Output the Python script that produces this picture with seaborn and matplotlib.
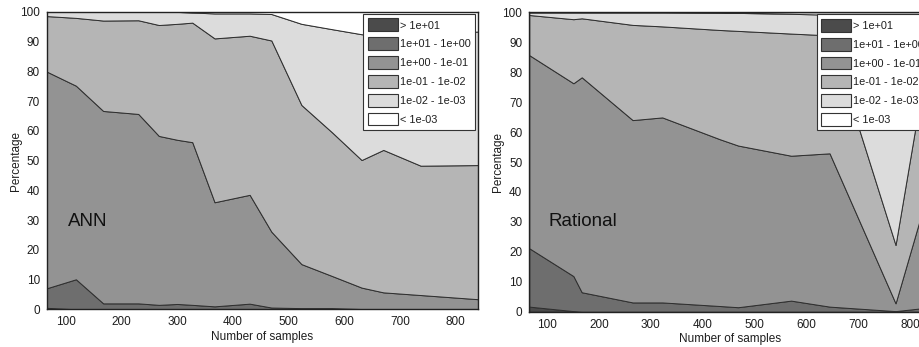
import numpy as np
import matplotlib
matplotlib.use("Agg")
import matplotlib.pyplot as plt
import seaborn as sns
from matplotlib.patches import Patch

# ---------------- data (cumulative upper boundary of each error band, %) ----------------
band_labels = ["> 1e+01", "1e+01 - 1e+00", "1e+00 - 1e-01",
               "1e-01 - 1e-02", "1e-02 - 1e-03", "< 1e-03"]

ann_x = [66, 118, 167, 230, 267, 300, 327, 367, 430, 469, 523, 578, 631, 670, 737, 840]
ann_top1 = [0.5, 0, 0, 0, 0, 0, 0, 0, 0, 0, 0, 0, 0, 0, 0, 0]
ann_top2 = [7.1, 10.1, 2.0, 2.0, 1.5, 1.8, 1.5, 1.0, 1.9, 0.6, 0.4, 0.4, 0.1, 0, 0, 0]
ann_top3 = [79.9, 75.2, 66.7, 65.7, 58.3, 57.0, 56.2, 36.0, 38.5, 26.1, 15.2, 11.2, 7.3, 5.7, 4.8, 3.4]
ann_top4 = [98.6, 98.0, 97.1, 97.2, 95.6, 96.0, 96.4, 91.1, 92.0, 90.4, 68.7, 59.5, 50.2, 53.6, 48.3, 48.5]
ann_top5 = [100, 100, 100, 100, 100, 100, 99.8, 99.5, 99.5, 99.3, 96.0, 94.2, 92.5, 92.2, 92.5, 93.4]

rat_x = [66, 151, 167, 265, 322, 433, 468, 570, 644, 771, 840]
rat_top1 = [1.7, 0.2, 0, 0, 0, 0, 0, 0, 0, 0, 0]
rat_top2 = [21.2, 11.9, 6.5, 3.1, 3.1, 1.9, 1.5, 3.7, 1.7, 0.2, 1.5]
rat_top3 = [85.7, 76.3, 78.3, 64.0, 64.9, 57.6, 55.5, 52.1, 52.9, 2.8, 44.0]
rat_top4 = [99.1, 97.7, 98.0, 95.8, 95.3, 94.1, 93.8, 92.9, 92.3, 22.3, 93.0]
rat_top5 = [100, 100, 100, 100, 100, 99.9, 99.8, 99.5, 99.2, 99.0, 99.0]

x_ticks = [100, 200, 300, 400, 500, 600, 700, 800]
y_ticks = [0, 10, 20, 30, 40, 50, 60, 70, 80, 90, 100]

# ---------------- style ----------------
band_colors = ["#4b4b4b", "#6e6e6e", "#939393", "#b5b5b5", "#dcdcdc", "#ffffff"]
edge_color = "#2e2e2e"
text_color = "#1e1e1e"

sns.set_style("white")
plt.rcParams["font.family"] = ["Liberation Sans", "DejaVu Sans"]

fig = plt.figure(figsize=(9.19, 3.47), dpi=100)
ax_left = fig.add_axes([0.0511, 0.1086, 0.469, 0.857])
ax_right = fig.add_axes([0.5759, 0.1017, 0.4376, 0.8628])


def draw(ax, x, tops, name, label_xy):
    tops = [np.asarray(t, dtype=float) for t in tops] + [np.full(len(x), 100.0)]
    shares = np.diff(np.vstack([np.zeros(len(x))] + tops), axis=0)
    ax.stackplot(x, shares, colors=band_colors, edgecolor=edge_color, linewidth=0.7)
    ax.set_xlim(66, 840)
    ax.set_ylim(0, 100)
    ax.set_xticks(x_ticks)
    ax.set_yticks(y_ticks)
    ax.tick_params(axis="both", length=0, labelsize=8.5, labelcolor=text_color, pad=5)
    ax.set_xlabel("Number of samples", fontsize=8.5, color=text_color, labelpad=2)
    ax.set_ylabel("Percentage", fontsize=8.5, color=text_color, labelpad=-1)
    for s in ax.spines.values():
        s.set_visible(True)
        s.set_color("#222222")
        s.set_linewidth(1.0)
    ax.text(label_xy[0], label_xy[1], name, fontsize=13.5, ha="left", va="center",
            color="#111111")
    handles = [Patch(facecolor=c, edgecolor="#333333", linewidth=0.8) for c in band_colors]
    w = ax.get_position().width * fig.get_figwidth() * fig.dpi
    h = ax.get_position().height * fig.get_figheight() * fig.dpi
    leg = ax.legend(handles, band_labels, loc="upper right",
                    bbox_to_anchor=(1 - 3 / w, 1 - 2 / h), borderaxespad=0,
                    fontsize=7.8, frameon=True, fancybox=False, framealpha=1,
                    edgecolor="#333333", handlelength=2.75, handleheight=1.45,
                    handletextpad=0.2, labelspacing=0.55, borderpad=0.42)
    leg.get_frame().set_linewidth(0.8)
    for t in leg.get_texts():
        t.set_color(text_color)


draw(ax_left, ann_x, [ann_top1, ann_top2, ann_top3, ann_top4, ann_top5], "ANN", (104, 29.4))
draw(ax_right, rat_x, [rat_top1, rat_top2, rat_top3, rat_top4, rat_top5], "Rational", (102.5, 30))

fig.savefig("out.png", dpi=100)
